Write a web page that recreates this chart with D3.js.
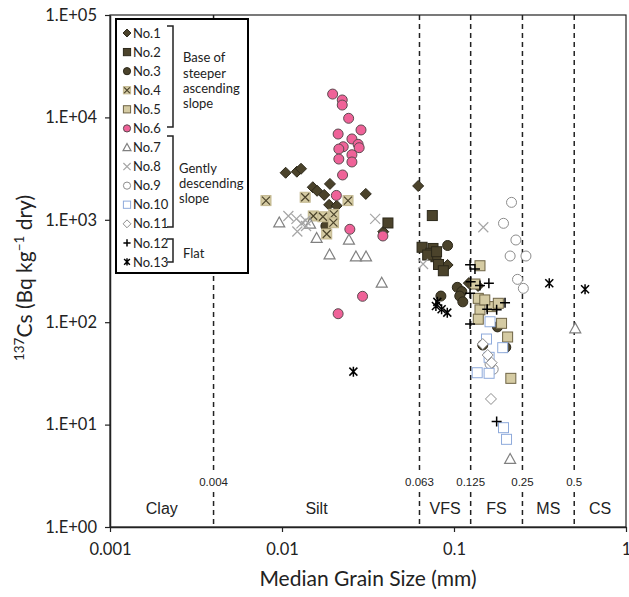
<!DOCTYPE html>
<html><head><meta charset="utf-8">
<script src="https://cdn.jsdelivr.net/npm/d3@7"></script>
<style>body{margin:0;background:#fff}svg{display:block}</style>
</head><body>
<svg id="c" width="629" height="597"></svg>
<script>
// ---------- data (median grain size mm, 137Cs Bq/kg) ----------
const seriesNames = ["No.1","No.2","No.3","No.4","No.5","No.6","No.7","No.8","No.9","No.10","No.11","No.12","No.13"];
const no1Size = [0.0105,0.0122,0.0129,0.0190,0.0151,0.0160,0.0176,0.0307,0.0188,0.0208,0.0619,0.0388,0.0918,0.122,0.138];
const no1Cs   = [2880,2950,3150,2240,2080,1920,1750,1790,1400,1370,2140,765,362,241,226];
const no2Size = [0.0413,0.0748,0.0652,0.0755,0.0733,0.0785,0.0703,0.0813,0.0867,0.0792];
const no2Cs   = [931,1100,539,525,471,436,453,366,318,488];
const no3Size = [0.0180,0.0918,0.0839,0.1045,0.111,0.108,0.1125,0.179,0.147,0.200];
const no3Cs   = [870,561,180,219,199,180,158,90,59.9,56.9];
const no4Size = [0.00807,0.01364,0.0242,0.0152,0.0173,0.0200,0.0199,0.0182];
const no4Cs   = [1540,1660,1540,1090,1070,1130,937,727];
const no5Size = [0.1416,0.1324,0.1384,0.1416,0.1656,0.181,0.1384,0.189,0.205,0.214,0.151];
const no5Cs   = [356,236,171,132,142,153,107,97.5,71.7,28.3,165];
const no6Size = [0.0197,0.0224,0.0224,0.0244,0.0288,0.0212,0.0255,0.0277,0.0227,0.0214,0.0281,0.0255,0.0214,0.0255,0.0225,0.0207,0.0248,0.0386,0.0294,0.0212];
const no6Cs   = [16900,14800,13200,9800,7540,6880,6160,5460,5170,4910,5060,4320,3920,3670,2740,1730,808,695,179,121];
const no7Size = [0.00964,0.01456,0.0159,0.0245,0.0189,0.0269,0.0308,0.0380,0.212,0.507];
const no7Cs   = [941,916,664,639,458,438,438,243,4.61,87];
const no8Size = [0.01089,0.01213,0.01228,0.01297,0.01371,0.0348,0.0661,0.148,0.0138];
const no8Cs   = [1090,1020,769,924,985,1020,370,845,869];
const no9Size = [0.216,0.194,0.229,0.212,0.262,0.234,0.253,0.169,0.162];
const no9Cs   = [1480,924,635,443,443,262,214,34.7,39.1];
const no10Size = [0.162,0.1545,0.192,0.160,0.1364,0.160,0.194,0.202];
const no10Cs   = [101,68.5,56.4,45.4,32.1,31.7,9.33,7.18];
const no11Size = [0.147,0.157,0.1656,0.164];
const no11Cs   = [61.2,47.8,40.2,17.8];
const no12Size = [0.124,0.1324,0.125,0.1595,0.1416,0.124,0.156,0.177,0.198,0.124,0.177];
const no12Cs   = [364,331,249,240,228,192,134,132,155,96,10.7];
const no13Size = [0.080,0.0847,0.0914,0.0785,0.0260,0.358,0.578];
const no13Cs   = [158,134,124,144,32.9,240,210];

const xTicks = [0.001,0.01,0.1,1];
const xTickLabels = ["0.001","0.01","0.1","1"];
const yTicks = [1,10,100,1000,10000,100000];
const yTickLabels = ["1.E+00","1.E+01","1.E+02","1.E+03","1.E+04","1.E+05"];
const boundaries = [0.004,0.063,0.125,0.25,0.5];
const boundaryLabels = ["0.004","0.063","0.125","0.25","0.5"];
const classNames = ["Clay","Silt","VFS","FS","MS","CS"];
const groupNames = [["Base of","steeper","ascending","slope"],["Gently","descending","slope"],["Flat"]];

const sizes = [no1Size,no2Size,no3Size,no4Size,no5Size,no6Size,no7Size,no8Size,no9Size,no10Size,no11Size,no12Size,no13Size];
const cs = [no1Cs,no2Cs,no3Cs,no4Cs,no5Cs,no6Cs,no7Cs,no8Cs,no9Cs,no10Cs,no11Cs,no12Cs,no13Cs];

// ---------- styles ----------
const FONT = "Lato, 'Open Sans', sans-serif";
const ARIAL = "'Liberation Sans', Arial, sans-serif";
const DARK = "#4b432b", DARKS = "#2c281a", TAN = "#d5cba3";
const styles = [
  {t:"diamond", fill:DARK, stroke:DARKS},
  {t:"square", fill:DARK, stroke:DARKS},
  {t:"circle", fill:DARK, stroke:DARKS},
  {t:"xsquare", fill:TAN, stroke:"#c2b78e", mark:DARK},
  {t:"square", fill:TAN, stroke:"#6e6445"},
  {t:"circle", fill:"#ef6298", stroke:"#5b4a4f"},
  {t:"triangle", fill:"#fff", stroke:"#808080"},
  {t:"x", fill:"none", stroke:"#a6a6a6"},
  {t:"circle", fill:"#fff", stroke:"#8c8c8c"},
  {t:"square", fill:"#fff", stroke:"#8eaadb"},
  {t:"diamond", fill:"#fff", stroke:"#8c8c8c"},
  {t:"plus", fill:"none", stroke:"#000"},
  {t:"star", fill:"none", stroke:"#000"}
];

const svg = d3.select("#c");
const L=110, R=626, T=15, B=527;
const x = d3.scaleLog().domain([0.001,1]).range([L,R]);
const y = d3.scaleLog().domain([1,1e5]).range([B,T]);

function marker(g, st, s){ // s = half size
  const sw = 1;
  if(st.t==="circle"){
    g.append("circle").attr("r",s).attr("fill",st.fill).attr("stroke",st.stroke).attr("stroke-width",sw);
  } else if(st.t==="square"){
    g.append("rect").attr("x",-s).attr("y",-s).attr("width",2*s).attr("height",2*s).attr("fill",st.fill).attr("stroke",st.stroke).attr("stroke-width",sw);
  } else if(st.t==="xsquare"){
    g.append("rect").attr("x",-s).attr("y",-s).attr("width",2*s).attr("height",2*s).attr("fill",st.fill).attr("stroke",st.stroke).attr("stroke-width",sw);
    const k=s*0.8;
    g.append("path").attr("d",`M${-k},${-k}L${k},${k}M${-k},${k}L${k},${-k}`).attr("stroke",st.mark).attr("stroke-width",1.2);
  } else if(st.t==="diamond"){
    const k=s*1.1;
    g.append("path").attr("d",`M0,${-k}L${k},0L0,${k}L${-k},0Z`).attr("fill",st.fill).attr("stroke",st.stroke).attr("stroke-width",sw);
  } else if(st.t==="triangle"){
    const k=s*1.1;
    g.append("path").attr("d",`M0,${-k}L${k},${k*0.8}L${-k},${k*0.8}Z`).attr("fill",st.fill).attr("stroke",st.stroke).attr("stroke-width",1.2);
  } else if(st.t==="x"){
    g.append("path").attr("d",`M${-s},${-s}L${s},${s}M${-s},${s}L${s},${-s}`).attr("stroke",st.stroke).attr("stroke-width",1.2);
  } else if(st.t==="plus"){
    g.append("path").attr("d",`M${-s},0L${s},0M0,${-s}L0,${s}`).attr("stroke",st.stroke).attr("stroke-width",1.5);
  } else if(st.t==="star"){
    const k=s*0.8;
    g.append("path").attr("d",`M${-k},${-k}L${k},${k}M${-k},${k}L${k},${-k}M0,${-s}L0,${s}`).attr("stroke",st.stroke).attr("stroke-width",1.5);
  }
}

// boundary dashed lines
const bg = svg.append("g");
boundaries.forEach((b,i)=>{
  bg.append("line").attr("x1",x(b)).attr("x2",x(b)).attr("y1",T).attr("y2",B)
    .attr("stroke","#222").attr("stroke-width",1.5).attr("stroke-dasharray","5,4");
});
boundaries.forEach((b,i)=>{
  const t = bg.append("text").attr("x",x(b)).attr("y",486).attr("text-anchor","middle")
    .attr("font-family",ARIAL).attr("font-size",11.5).attr("fill","#222").text(boundaryLabels[i]);
  const bb = t.node().getBBox();
  bg.insert("rect","text").attr("x",bb.x-1).attr("y",bb.y-2).attr("width",bb.width+2).attr("height",bb.height+4).attr("fill","#fff");
});
const edges = [0.001].concat(boundaries).concat([1]);
classNames.forEach((c,i)=>{
  const cx = (x(edges[i])+x(edges[i+1]))/2;
  bg.append("text").attr("x",cx).attr("y",514).attr("text-anchor","middle")
    .attr("font-family",ARIAL).attr("font-size",16).attr("fill","#222").text(c);
});

// frame and axes
svg.append("rect").attr("x",L).attr("y",T).attr("width",R-L).attr("height",B-T).attr("fill","none").attr("stroke","#222").attr("stroke-width",1.2);
const xa = svg.append("g").attr("transform",`translate(0,${B})`)
  .call(d3.axisBottom(x).tickValues(xTicks).tickFormat((d,i)=>xTickLabels[i]).tickSize(5).tickSizeOuter(0).tickPadding(11));
const ya = svg.append("g").attr("transform",`translate(${L},0)`)
  .call(d3.axisLeft(y).tickValues(yTicks).tickFormat((d,i)=>yTickLabels[i]).tickSize(5).tickSizeOuter(0).tickPadding(8));
[xa,ya].forEach(a=>{
  a.select(".domain").attr("stroke","#222").attr("stroke-width",1.5);
  a.selectAll(".tick line").attr("stroke","#222").attr("stroke-width",1.2);
  a.selectAll("text").attr("font-family",FONT).attr("font-size",16.5).attr("fill","#222");
});

// points
const pg = svg.append("g");
seriesNames.forEach((n,si)=>{
  sizes[si].forEach((v,j)=>{
    const g = pg.append("g").attr("transform",`translate(${x(v)},${y(cs[si][j])})`);
    marker(g, styles[si], 5);
  });
});

// axis titles
svg.append("text").attr("x",368).attr("y",586).attr("text-anchor","middle")
  .attr("font-family",FONT).attr("font-size",21).attr("fill","#222").text("Median Grain Size (mm)");
const yt = svg.append("text").attr("transform","translate(32,278) rotate(-90)").attr("text-anchor","middle")
  .attr("font-family",FONT).attr("font-size",21).attr("fill","#222");
yt.append("tspan").attr("font-size",13.5).attr("dy",-8).text("137");
yt.append("tspan").attr("dy",8).text("Cs (Bq kg");
yt.append("tspan").attr("font-size",13.5).attr("dy",-8).text("\u22121");
yt.append("tspan").attr("dy",8).text(" dry)");

// legend
const lg = svg.append("g");
lg.append("rect").attr("x",116).attr("y",19).attr("width",132).attr("height",254).attr("fill","#fff").attr("stroke","#000").attr("stroke-width",2);
seriesNames.forEach((n,i)=>{
  const cy = 33 + i*19.08;
  const g = lg.append("g").attr("transform",`translate(127,${cy})`);
  marker(g, styles[i], 3.6);
  lg.append("text").attr("x",133).attr("y",cy).attr("dy","0.36em")
    .attr("font-family",FONT).attr("font-size",13).attr("fill","#222").text(n);
});
const brackets = [[26,127],[136,227],[239,262]];
brackets.forEach(b=>{
  lg.append("path").attr("d",`M167,${b[0]}L173,${b[0]}L173,${b[1]}L167,${b[1]}`).attr("fill","none").attr("stroke","#222").attr("stroke-width",1.5);
});
const groupStart = [57.7,168.3,253.3];
const groupX = [183,179,183];
groupNames.forEach((lines,gi)=>{
  lines.forEach((t,k)=>{
    lg.append("text").attr("x",groupX[gi]).attr("y",groupStart[gi]+k*15.2).attr("dy","0.36em")
      .attr("font-family",FONT).attr("font-size",13).attr("fill","#222").text(t);
  });
});
</script>
</body></html>
